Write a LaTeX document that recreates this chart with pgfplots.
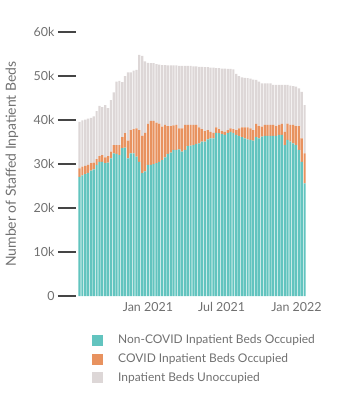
\documentclass[border=0pt]{standalone}
\usepackage{pgfplots}
\pgfplotsset{compat=1.18}
\usepackage{pgfplotstable}
\usepackage{fontspec}
\setmainfont{Lato}
\definecolor{tealc}{HTML}{62C4BF}
\definecolor{orangec}{HTML}{E8925F}
\definecolor{grayc}{HTML}{DDD7D7}
\definecolor{txtc}{HTML}{707070}
\definecolor{tickc}{HTML}{454545}

% day = days since 1 Jan 2021 (weekly); values in thousands of beds
\pgfplotstableread{
day noncovid covid unocc
-168 27.1 1.9 10.6
-161 27.4 2.0 10.5
-154 27.7 1.9 10.5
-147 28.0 1.8 10.5
-140 28.5 1.7 10.3
-133 28.8 1.5 10.5
-126 29.8 1.3 10.9
-119 30.5 1.3 11.4
-112 30.5 1.5 10.9
-105 30.2 1.3 11.9
-98 30.3 1.5 10.9
-91 31.3 1.5 11.7
-84 32.4 1.9 12.0
-77 32.3 2.0 14.4
-70 32.0 2.3 14.6
-63 33.6 2.5 12.5
-56 33.7 3.3 13.0
-49 31.3 4.0 15.5
-42 32.4 5.3 13.1
-35 32.4 5.5 13.3
-28 31.7 6.4 13.3
-21 30.5 7.2 17.1
-14 27.9 8.5 18.2
-7 28.3 8.8 16.2
0 29.8 9.3 13.9
7 29.8 10.0 13.1
14 30.0 9.8 13.1
21 30.2 9.2 13.3
28 30.5 8.7 13.4
35 30.9 7.6 14.0
42 31.5 7.4 13.6
49 32.3 6.3 13.8
56 32.6 6.0 13.8
63 33.2 5.6 13.6
70 33.2 5.7 13.5
77 33.3 4.8 14.2
84 32.8 5.3 14.2
91 33.2 5.7 13.4
98 34.1 4.8 13.4
105 34.2 4.7 13.4
112 34.3 4.6 13.3
119 34.6 4.3 13.3
126 34.7 3.6 13.8
133 35.1 2.8 14.2
140 35.1 2.4 14.5
147 35.6 2.1 14.3
154 35.8 1.5 14.6
161 35.8 1.3 14.8
168 37.1 1.2 13.5
175 37.0 0.9 13.9
182 36.8 0.7 14.2
189 36.6 0.7 14.4
196 37.0 0.7 13.9
203 37.3 0.8 13.5
210 37.0 0.9 13.6
217 36.6 1.1 12.8
224 36.4 1.7 11.9
231 36.1 2.2 11.4
238 35.8 2.5 11.3
245 35.6 2.7 11.2
252 35.5 2.6 11.3
259 35.3 2.4 11.5
266 36.1 3.0 10.0
273 35.8 2.8 10.1
280 36.2 2.3 9.8
287 36.4 2.5 9.4
294 36.4 2.5 9.4
301 36.4 2.5 9.4
308 36.4 2.5 9.1
315 36.4 2.2 9.4
322 36.6 2.3 9.1
329 36.6 2.5 8.9
336 34.3 3.0 10.7
343 35.5 3.7 8.8
350 35.1 3.8 8.9
357 34.7 4.2 8.8
364 34.3 4.3 9.0
371 33.2 5.4 8.6
378 30.5 5.3 10.6
385 25.6 6.8 11.0
}\beds

\begin{document}
\begin{tikzpicture}[x=1bp,y=1bp]
\begin{axis}[
  scale only axis, width=230bp, height=264bp,
  ybar stacked, bar width=5.4,
  xmin=-171.7, xmax=393.3, ymin=0, ymax=60,
  axis lines*=left, axis line style={draw=none},
  ytick={0,10,20,30,40,50,60},
  yticklabels={0,10k,20k,30k,40k,50k,60k},
  xtick={0,181,365},
  xticklabels={Jan 2021,Jul 2021,Jan 2022},
  tick align=outside, major tick length=18bp,
  ytick style={line width=2bp, draw=tickc, xshift=-2bp},
  xtick style={draw=none},
  /pgf/number format/assume math mode=true,
  ticklabel style={font=\fontsize{12.5}{14}\selectfont, text=txtc},
  yticklabel style={xshift=-2bp},
  xticklabel style={yshift=15bp},
  ylabel={Number of Staffed Inpatient Beds},
  ylabel style={at={(axis description cs:-0.287,0.5)}, anchor=center, font=\fontsize{14}{16}\selectfont, text=txtc},
  legend cell align=left,
  legend image code/.code={\fill (0bp,-5.5bp) rectangle (11bp,5.5bp);},
  legend style={at={(axis description cs:0.061,-0.14)}, anchor=north west, draw=none, fill=none,
    font=\fontsize{12}{14}\selectfont, text=txtc, inner sep=0pt, row sep=4.5bp,
    nodes={inner sep=2bp},
    /tikz/every odd column/.append style={column sep=13bp}},
]
\coordinate (O) at (rel axis cs:0,0);
\addplot[fill=tealc, draw=none] table[x=day, y=noncovid] {\beds};
\addplot[fill=orangec, draw=none] table[x=day, y=covid] {\beds};
\addplot[fill=grayc, draw=none] table[x=day, y=unocc] {\beds};
\legend{Non-COVID Inpatient Beds Occupied, COVID Inpatient Beds Occupied, Inpatient Beds Unoccupied}
\end{axis}
\path[use as bounding box] ([shift={(-78bp,-104bp)}]O) rectangle ++(340bp,400bp);
\end{tikzpicture}
\end{document}
